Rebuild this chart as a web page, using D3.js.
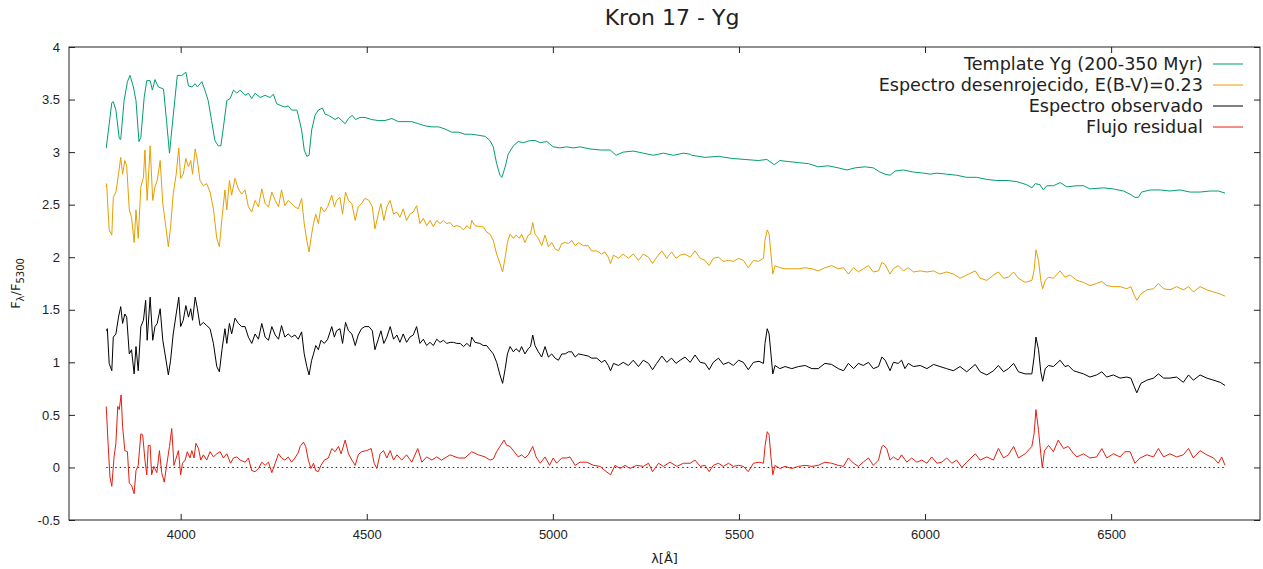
<!DOCTYPE html>
<html>
<head>
<meta charset="utf-8">
<script src="https://cdn.jsdelivr.net/npm/d3@7"></script>
<style>
  body { margin: 0; background: #fff; }
  svg { font-family: "DejaVu Sans", sans-serif; }
  .tick text { fill: #222; font-size: 13px; }
  .tick line { stroke: #222; }
</style>
</head>
<body>
<div id="chart"></div>
<script>
// [lambda (A), F/F5300]
var templateYg = [[3800,3.04],[3806,3.21],[3815,3.47],[3819,3.48],[3826,3.40],[3835,3.13],[3839,3.12],[3848,3.49],[3857,3.67],[3864,3.73],[3873,3.62],[3880,3.49],[3888,3.10],[3893,3.14],[3902,3.52],[3909,3.68],[3918,3.68],[3924,3.59],[3931,3.69],[3940,3.62],[3954,3.60],[3962,3.30],[3970,2.99],[3977,3.24],[3985,3.52],[3991,3.73],[4003,3.73],[4014,3.76],[4021,3.63],[4030,3.62],[4039,3.65],[4045,3.62],[4057,3.67],[4065,3.59],[4074,3.49],[4083,3.30],[4092,3.11],[4101,3.06],[4108,3.06],[4115,3.24],[4124,3.49],[4133,3.51],[4142,3.59],[4151,3.56],[4160,3.59],[4173,3.54],[4182,3.56],[4191,3.51],[4200,3.56],[4213,3.52],[4227,3.54],[4240,3.52],[4249,3.55],[4258,3.46],[4271,3.44],[4280,3.43],[4289,3.44],[4298,3.40],[4312,3.40],[4316,3.35],[4325,3.21],[4332,3.02],[4339,2.96],[4345,2.97],[4352,3.21],[4361,3.35],[4370,3.40],[4381,3.42],[4388,3.36],[4397,3.35],[4406,3.33],[4415,3.31],[4424,3.33],[4433,3.30],[4442,3.27],[4451,3.32],[4461,3.35],[4470,3.31],[4482,3.33],[4495,3.33],[4513,3.31],[4531,3.30],[4549,3.30],[4567,3.32],[4585,3.29],[4603,3.29],[4621,3.29],[4639,3.27],[4657,3.25],[4675,3.24],[4693,3.24],[4710,3.22],[4728,3.19],[4746,3.19],[4764,3.17],[4782,3.17],[4800,3.16],[4818,3.15],[4831,3.11],[4840,3.05],[4849,2.89],[4858,2.78],[4863,2.76],[4872,2.86],[4880,2.98],[4894,3.06],[4907,3.10],[4921,3.09],[4939,3.11],[4952,3.11],[4966,3.09],[4984,3.10],[5001,3.05],[5019,3.04],[5037,3.05],[5055,3.04],[5073,3.05],[5100,3.03],[5127,3.02],[5154,3.02],[5170,2.97],[5189,3.00],[5216,3.01],[5243,2.99],[5270,2.97],[5297,2.99],[5324,2.97],[5351,2.99],[5369,2.98],[5373,2.97],[5409,2.95],[5445,2.96],[5481,2.94],[5516,2.93],[5552,2.92],[5575,2.93],[5595,2.88],[5610,2.92],[5633,2.91],[5660,2.90],[5687,2.89],[5713,2.86],[5740,2.87],[5767,2.85],[5790,2.83],[5812,2.85],[5839,2.86],[5861,2.85],[5879,2.81],[5893,2.79],[5906,2.78],[5920,2.82],[5942,2.83],[5969,2.81],[5996,2.80],[6014,2.79],[6032,2.80],[6058,2.79],[6085,2.78],[6112,2.76],[6139,2.76],[6166,2.74],[6193,2.73],[6220,2.73],[6246,2.72],[6273,2.69],[6287,2.66],[6296,2.70],[6309,2.69],[6318,2.64],[6327,2.68],[6345,2.68],[6363,2.71],[6381,2.67],[6408,2.68],[6426,2.68],[6443,2.65],[6479,2.66],[6506,2.65],[6533,2.63],[6551,2.60],[6564,2.57],[6573,2.57],[6582,2.62],[6605,2.64],[6632,2.64],[6658,2.63],[6685,2.64],[6712,2.62],[6739,2.62],[6766,2.63],[6788,2.63],[6806,2.61]];

var dereddened = [[3800,2.67],[3801,2.70],[3808,2.26],[3815,2.21],[3819,2.57],[3826,2.62],[3833,2.79],[3839,2.95],[3844,2.79],[3850,2.92],[3855,2.87],[3862,2.45],[3868,2.38],[3875,2.14],[3880,2.45],[3886,2.18],[3893,2.67],[3900,2.76],[3904,3.02],[3910,2.54],[3918,3.06],[3925,2.54],[3931,2.67],[3937,2.73],[3945,2.92],[3952,2.51],[3958,2.35],[3967,2.10],[3973,2.29],[3980,2.60],[3988,2.79],[3995,3.04],[4000,2.75],[4007,2.79],[4014,2.94],[4021,2.86],[4027,2.92],[4032,2.79],[4039,3.03],[4045,2.92],[4052,2.73],[4061,2.68],[4070,2.70],[4079,2.62],[4088,2.46],[4097,2.18],[4104,2.10],[4111,2.37],[4119,2.64],[4124,2.45],[4131,2.73],[4137,2.59],[4146,2.75],[4155,2.65],[4164,2.60],[4173,2.64],[4182,2.48],[4191,2.43],[4200,2.54],[4209,2.48],[4218,2.65],[4227,2.51],[4236,2.48],[4245,2.62],[4254,2.54],[4263,2.48],[4271,2.64],[4280,2.49],[4289,2.54],[4298,2.51],[4307,2.48],[4316,2.46],[4325,2.56],[4332,2.32],[4339,2.16],[4345,2.05],[4352,2.22],[4357,2.32],[4363,2.41],[4370,2.32],[4377,2.48],[4386,2.43],[4395,2.48],[4406,2.59],[4413,2.48],[4419,2.54],[4428,2.57],[4435,2.41],[4443,2.62],[4451,2.54],[4460,2.51],[4469,2.35],[4477,2.48],[4486,2.51],[4495,2.56],[4506,2.54],[4515,2.48],[4522,2.27],[4531,2.41],[4538,2.51],[4546,2.35],[4554,2.48],[4563,2.54],[4572,2.41],[4581,2.43],[4589,2.38],[4598,2.46],[4607,2.35],[4616,2.41],[4625,2.43],[4634,2.49],[4643,2.32],[4652,2.37],[4661,2.30],[4670,2.35],[4679,2.29],[4688,2.35],[4697,2.32],[4706,2.35],[4715,2.32],[4724,2.33],[4733,2.29],[4742,2.30],[4751,2.29],[4760,2.26],[4769,2.30],[4778,2.27],[4782,2.35],[4791,2.30],[4804,2.29],[4813,2.29],[4822,2.24],[4831,2.22],[4840,2.16],[4849,2.03],[4858,1.94],[4865,1.86],[4872,2.00],[4878,2.14],[4885,2.22],[4894,2.18],[4901,2.21],[4910,2.18],[4916,2.22],[4925,2.14],[4934,2.21],[4940,2.22],[4946,2.33],[4952,2.22],[4961,2.18],[4970,2.11],[4979,2.21],[4988,2.10],[4997,2.14],[5006,2.08],[5015,2.06],[5024,2.13],[5033,2.14],[5042,2.13],[5051,2.16],[5060,2.11],[5069,2.14],[5082,2.11],[5095,2.11],[5104,2.06],[5118,2.06],[5131,2.03],[5140,2.05],[5149,2.00],[5155,1.94],[5163,2.02],[5176,1.99],[5189,2.03],[5203,1.99],[5216,2.03],[5230,1.97],[5243,2.03],[5257,2.00],[5268,1.94],[5279,2.00],[5293,2.06],[5306,1.99],[5319,2.05],[5331,1.99],[5342,2.02],[5355,2.03],[5369,2.00],[5382,2.06],[5396,1.99],[5409,1.97],[5420,1.92],[5431,1.99],[5445,2.00],[5458,1.96],[5472,1.97],[5485,1.96],[5499,1.99],[5512,1.97],[5525,1.90],[5539,1.97],[5552,1.96],[5566,1.99],[5570,2.16],[5576,2.26],[5581,2.22],[5586,2.03],[5591,1.84],[5597,1.92],[5610,1.90],[5624,1.89],[5642,1.89],[5660,1.89],[5678,1.90],[5696,1.89],[5713,1.87],[5731,1.90],[5749,1.92],[5767,1.89],[5781,1.90],[5794,1.84],[5808,1.90],[5821,1.86],[5834,1.89],[5848,1.92],[5861,1.86],[5875,1.87],[5884,1.95],[5893,1.93],[5906,1.84],[5915,1.89],[5928,1.92],[5942,1.87],[5955,1.90],[5969,1.86],[5987,1.87],[6005,1.86],[6023,1.87],[6040,1.84],[6058,1.86],[6076,1.84],[6094,1.80],[6112,1.83],[6135,1.87],[6148,1.80],[6166,1.78],[6184,1.83],[6197,1.86],[6211,1.80],[6224,1.81],[6238,1.86],[6251,1.80],[6269,1.76],[6287,1.78],[6293,1.87],[6298,2.07],[6305,1.97],[6311,1.78],[6316,1.70],[6323,1.78],[6332,1.81],[6345,1.80],[6363,1.87],[6376,1.81],[6390,1.83],[6408,1.78],[6426,1.76],[6443,1.73],[6461,1.75],[6475,1.77],[6488,1.73],[6506,1.72],[6524,1.72],[6542,1.70],[6553,1.72],[6562,1.64],[6569,1.59],[6580,1.65],[6596,1.69],[6614,1.70],[6627,1.75],[6641,1.70],[6658,1.69],[6676,1.72],[6694,1.69],[6708,1.72],[6721,1.67],[6739,1.72],[6757,1.69],[6775,1.67],[6793,1.65],[6806,1.63]];

var observed = [[3800,1.30],[3803,1.32],[3808,0.99],[3815,0.92],[3819,1.24],[3826,1.27],[3833,1.43],[3839,1.53],[3844,1.37],[3850,1.46],[3855,1.43],[3862,1.08],[3868,1.12],[3875,0.89],[3880,1.15],[3886,0.92],[3893,1.34],[3900,1.40],[3906,1.59],[3910,1.21],[3918,1.62],[3925,1.21],[3931,1.34],[3937,1.37],[3945,1.51],[3952,1.21],[3958,1.08],[3967,0.88],[3973,1.02],[3980,1.27],[3988,1.46],[3995,1.62],[4000,1.34],[4007,1.40],[4014,1.54],[4021,1.43],[4027,1.51],[4032,1.40],[4039,1.62],[4045,1.51],[4052,1.35],[4061,1.38],[4070,1.35],[4079,1.32],[4088,1.18],[4097,0.96],[4104,0.91],[4111,1.12],[4119,1.32],[4124,1.18],[4131,1.37],[4137,1.27],[4146,1.42],[4155,1.37],[4164,1.34],[4173,1.34],[4182,1.24],[4191,1.18],[4200,1.27],[4209,1.22],[4218,1.37],[4227,1.24],[4236,1.21],[4245,1.34],[4254,1.26],[4263,1.22],[4271,1.35],[4280,1.24],[4289,1.27],[4298,1.24],[4307,1.26],[4316,1.22],[4325,1.29],[4332,1.08],[4339,0.96],[4345,0.88],[4352,1.02],[4357,1.08],[4363,1.16],[4370,1.12],[4377,1.21],[4386,1.18],[4395,1.22],[4406,1.34],[4413,1.24],[4419,1.30],[4428,1.32],[4435,1.18],[4443,1.38],[4451,1.30],[4460,1.27],[4469,1.16],[4477,1.26],[4486,1.32],[4495,1.34],[4506,1.34],[4515,1.30],[4522,1.12],[4531,1.22],[4538,1.30],[4546,1.18],[4554,1.24],[4563,1.34],[4572,1.22],[4581,1.26],[4589,1.19],[4598,1.27],[4607,1.19],[4616,1.24],[4625,1.26],[4634,1.34],[4643,1.18],[4652,1.22],[4661,1.16],[4670,1.19],[4679,1.16],[4688,1.22],[4697,1.19],[4706,1.21],[4715,1.18],[4724,1.19],[4733,1.19],[4742,1.18],[4751,1.18],[4760,1.15],[4769,1.18],[4778,1.15],[4782,1.24],[4791,1.19],[4804,1.18],[4813,1.16],[4822,1.16],[4831,1.12],[4840,1.08],[4849,1.00],[4858,0.88],[4865,0.80],[4872,0.94],[4878,1.08],[4885,1.15],[4894,1.10],[4901,1.13],[4910,1.10],[4916,1.15],[4925,1.08],[4934,1.13],[4940,1.15],[4946,1.26],[4952,1.16],[4961,1.10],[4970,1.05],[4979,1.15],[4988,1.05],[4997,1.08],[5006,1.04],[5015,1.02],[5024,1.08],[5033,1.08],[5042,1.10],[5051,1.10],[5060,1.05],[5069,1.08],[5082,1.07],[5095,1.06],[5104,1.04],[5118,1.04],[5131,1.00],[5140,1.02],[5149,0.97],[5155,0.92],[5163,0.99],[5176,0.97],[5189,1.00],[5203,0.97],[5216,1.02],[5230,0.96],[5243,1.02],[5257,0.99],[5268,0.93],[5279,0.99],[5293,1.06],[5306,1.00],[5319,1.04],[5331,0.99],[5342,1.02],[5355,1.05],[5369,1.00],[5382,1.07],[5396,1.00],[5409,0.99],[5420,0.93],[5431,1.00],[5445,1.04],[5458,0.98],[5472,1.00],[5485,0.97],[5499,1.02],[5512,1.00],[5525,0.93],[5539,1.00],[5554,1.01],[5566,0.99],[5570,1.18],[5576,1.32],[5581,1.27],[5586,1.08],[5591,0.89],[5597,0.97],[5610,0.94],[5624,0.96],[5642,0.94],[5660,0.96],[5678,0.97],[5696,0.94],[5713,0.94],[5731,0.99],[5749,0.98],[5767,0.94],[5781,0.92],[5794,0.99],[5808,0.94],[5821,0.99],[5834,0.97],[5848,1.00],[5861,0.94],[5875,0.96],[5884,1.05],[5893,1.02],[5906,0.92],[5915,1.00],[5928,0.99],[5937,1.02],[5946,0.94],[5955,0.99],[5969,0.96],[5987,0.97],[6005,0.94],[6023,0.98],[6040,0.96],[6058,0.94],[6076,0.92],[6094,0.96],[6112,0.91],[6135,0.98],[6148,0.91],[6166,0.88],[6184,0.92],[6197,0.97],[6211,0.91],[6224,0.94],[6238,0.99],[6251,0.91],[6269,0.89],[6287,0.89],[6293,1.05],[6298,1.24],[6305,1.12],[6311,0.91],[6316,0.82],[6323,0.94],[6332,0.97],[6345,0.96],[6363,1.02],[6376,0.96],[6385,0.97],[6399,0.92],[6408,0.91],[6426,0.89],[6443,0.86],[6461,0.88],[6475,0.91],[6488,0.86],[6506,0.88],[6524,0.85],[6542,0.86],[6553,0.85],[6562,0.77],[6569,0.71],[6580,0.80],[6596,0.83],[6614,0.85],[6627,0.89],[6641,0.85],[6658,0.85],[6676,0.86],[6694,0.81],[6708,0.88],[6721,0.83],[6739,0.88],[6757,0.85],[6775,0.83],[6793,0.81],[6806,0.78]];

var residual = [[3800,0.58],[3805,0.23],[3810,-0.09],[3815,-0.18],[3821,0.10],[3826,0.23],[3831,0.58],[3835,0.55],[3840,0.69],[3844,0.39],[3850,0.16],[3857,0.15],[3862,-0.15],[3868,-0.17],[3875,-0.25],[3880,-0.03],[3886,0.02],[3893,0.32],[3898,0.31],[3904,0.07],[3909,-0.07],[3913,0.21],[3918,0.21],[3922,-0.07],[3928,0.01],[3936,-0.05],[3943,0.16],[3949,-0.05],[3956,-0.14],[3962,0.01],[3970,0.20],[3976,0.37],[3982,0.02],[3988,0.09],[3994,0.16],[4000,-0.07],[4005,0.04],[4012,0.07],[4018,0.15],[4025,0.09],[4030,0.16],[4036,0.09],[4041,0.23],[4048,0.18],[4054,0.07],[4061,0.12],[4070,0.07],[4079,0.15],[4088,0.10],[4097,0.13],[4106,0.15],[4115,0.09],[4124,0.13],[4134,0.04],[4142,0.09],[4151,0.10],[4160,0.07],[4173,0.05],[4182,0.09],[4191,-0.03],[4200,-0.04],[4209,-0.01],[4218,0.05],[4227,0.02],[4236,0.05],[4245,-0.05],[4254,0.04],[4263,0.13],[4271,0.09],[4280,0.07],[4289,0.10],[4298,0.05],[4307,0.09],[4316,0.14],[4321,0.20],[4330,0.24],[4336,0.20],[4343,0.07],[4350,-0.01],[4357,0.04],[4363,-0.03],[4370,-0.04],[4377,0.02],[4386,0.07],[4397,0.09],[4406,0.18],[4415,0.15],[4424,0.20],[4431,0.13],[4442,0.26],[4451,0.13],[4460,0.07],[4469,0.02],[4477,0.12],[4486,0.15],[4500,0.16],[4512,0.18],[4520,0.04],[4527,-0.01],[4536,0.13],[4545,0.16],[4554,0.09],[4563,0.16],[4572,0.07],[4581,0.12],[4594,0.07],[4607,0.12],[4621,0.05],[4637,0.18],[4648,0.05],[4661,0.10],[4675,0.07],[4688,0.10],[4701,0.07],[4724,0.12],[4746,0.09],[4764,0.09],[4782,0.15],[4800,0.12],[4818,0.10],[4831,0.07],[4840,0.08],[4849,0.15],[4858,0.20],[4869,0.26],[4876,0.21],[4885,0.20],[4896,0.15],[4907,0.10],[4916,0.12],[4925,0.09],[4934,0.12],[4946,0.20],[4955,0.10],[4966,0.04],[4979,0.10],[4991,0.02],[5001,0.09],[5010,0.04],[5024,0.09],[5037,0.09],[5046,0.10],[5060,0.02],[5073,0.05],[5091,0.05],[5109,0.02],[5127,0.01],[5140,-0.03],[5155,-0.07],[5167,0.02],[5181,-0.01],[5194,0.02],[5207,-0.01],[5225,0.02],[5243,0.01],[5257,0.04],[5268,-0.04],[5284,0.04],[5297,0.01],[5315,0.05],[5333,0.01],[5351,0.04],[5369,0.04],[5382,0.07],[5396,0.01],[5409,0.02],[5420,-0.04],[5431,0.02],[5445,0.04],[5458,0.01],[5472,0.04],[5485,0.01],[5499,0.02],[5512,0.01],[5525,-0.04],[5539,0.04],[5554,0.05],[5566,0.04],[5570,0.20],[5576,0.34],[5581,0.31],[5586,0.10],[5591,-0.07],[5597,0.02],[5610,-0.01],[5624,0.01],[5642,-0.01],[5660,0.01],[5678,0.02],[5696,0.01],[5713,0.02],[5731,0.05],[5749,0.04],[5767,0.02],[5781,0.01],[5794,0.09],[5808,0.04],[5821,0.01],[5834,0.05],[5848,0.09],[5861,0.02],[5875,0.07],[5884,0.20],[5888,0.21],[5897,0.18],[5906,0.07],[5915,0.10],[5928,0.07],[5937,0.12],[5951,0.05],[5964,0.09],[5978,0.05],[5991,0.07],[6005,0.04],[6018,0.10],[6032,0.04],[6045,0.05],[6058,0.09],[6072,0.04],[6085,0.07],[6099,0.00],[6112,0.05],[6135,0.13],[6148,0.07],[6166,0.10],[6184,0.07],[6197,0.18],[6211,0.09],[6224,0.12],[6238,0.20],[6251,0.09],[6269,0.13],[6287,0.20],[6293,0.32],[6298,0.55],[6305,0.35],[6311,0.13],[6315,0.00],[6321,0.16],[6332,0.21],[6345,0.15],[6358,0.26],[6372,0.18],[6385,0.20],[6399,0.13],[6408,0.10],[6426,0.13],[6443,0.09],[6461,0.10],[6475,0.18],[6488,0.09],[6506,0.13],[6524,0.10],[6537,0.15],[6551,0.15],[6564,0.04],[6578,0.09],[6596,0.12],[6614,0.10],[6627,0.18],[6641,0.10],[6658,0.13],[6676,0.10],[6694,0.12],[6708,0.18],[6721,0.09],[6739,0.16],[6757,0.12],[6775,0.09],[6788,0.04],[6797,0.10],[6806,0.02]];

var seriesNames = ['Template Yg (200-350 Myr)', 'Espectro desenrojecido, E(B-V)=0.23', 'Espectro observado', 'Flujo residual'];
var seriesColors = ['#009e73', '#e69f00', '#000000', '#e51e10'];
var xTicks = [4000, 4500, 5000, 5500, 6000, 6500];
var yTicks = [-0.5, 0, 0.5, 1, 1.5, 2, 2.5, 3, 3.5, 4];

//Basic setting
var w = 1263, h = 569;
var margin = {top: 47, right: 3, bottom: 49, left: 69};
var innerW = w - margin.left - margin.right,
    innerH = h - margin.top - margin.bottom;

var svg = d3.select('#chart').append('svg')
    .attr('width', w)
    .attr('height', h);

var g = svg.append('g')
    .attr('transform', 'translate(' + [margin.left, margin.top] + ')');

//Scales
var x = d3.scaleLinear().domain([3700, 6900]).range([0, innerW]);
var y = d3.scaleLinear().domain([-0.5, 4]).range([innerH, 0]);

//Axes, gnuplot style: inward ticks, mirrored
var fmt = function(d) { return String(d); };
g.append('g')
    .attr('class', 'x axis')
    .attr('transform', 'translate(0,' + innerH + ')')
    .call(d3.axisBottom(x).tickValues(xTicks).tickFormat(fmt).tickSizeInner(-6).tickSizeOuter(0).tickPadding(10));
g.append('g')
    .attr('class', 'x2 axis')
    .call(d3.axisTop(x).tickValues(xTicks).tickFormat('').tickSizeInner(-6).tickSizeOuter(0));
g.append('g')
    .attr('class', 'y axis')
    .call(d3.axisLeft(y).tickValues(yTicks).tickFormat(fmt).tickSizeInner(-6).tickSizeOuter(0).tickPadding(9));
g.append('g')
    .attr('class', 'y2 axis')
    .attr('transform', 'translate(' + innerW + ',0)')
    .call(d3.axisRight(y).tickValues(yTicks).tickFormat('').tickSizeInner(-6).tickSizeOuter(0));
g.selectAll('.domain').remove();

g.append('rect')
    .attr('width', innerW)
    .attr('height', innerH)
    .attr('fill', 'none')
    .attr('stroke', '#222')
    .attr('stroke-width', 1);

//Zero reference line over the residual range
var line = d3.line()
    .x(function(d) { return x(d[0]); })
    .y(function(d) { return y(d[1]); });

var zeroLine = [[residual[0][0], 0], [residual[residual.length - 1][0], 0]];
g.append('path')
    .datum(zeroLine)
    .attr('d', line)
    .attr('fill', 'none')
    .attr('stroke', '#222')
    .attr('stroke-width', 1)
    .attr('stroke-dasharray', '1.5,3');

//Spectra
var allSeries = [templateYg, dereddened, observed, residual];
allSeries.forEach(function(s, i) {
    g.append('path')
        .datum(s)
        .attr('class', 'line')
        .attr('d', line)
        .attr('fill', 'none')
        .attr('stroke', seriesColors[i])
        .attr('stroke-width', 1)
        .attr('stroke-linejoin', 'round');
});

//Legend
var legend = svg.append('g').attr('class', 'legend');
seriesNames.forEach(function(name, i) {
    var ly = 64 + i * 21;
    legend.append('text')
        .attr('x', 1203)
        .attr('y', ly)
        .attr('dy', '0.35em')
        .attr('text-anchor', 'end')
        .attr('font-size', 17.6)
        .attr('fill', '#222')
        .text(name);
    legend.append('line')
        .attr('x1', 1213).attr('x2', 1243)
        .attr('y1', ly).attr('y2', ly)
        .attr('stroke', seriesColors[i])
        .attr('stroke-width', 1);
});

//Title and axis labels
svg.append('text')
    .attr('x', 672)
    .attr('y', 25)
    .attr('text-anchor', 'middle')
    .attr('font-size', 22)
    .attr('fill', '#222')
    .text('Kron 17 - Yg');

svg.append('text')
    .attr('x', margin.left + innerW / 2)
    .attr('y', 563)
    .attr('text-anchor', 'middle')
    .attr('font-size', 13)
    .attr('fill', '#222')
    .text('λ[Å]');

var yl = svg.append('text')
    .attr('transform', 'translate(20,' + (margin.top + innerH / 2) + ') rotate(-90)')
    .attr('text-anchor', 'middle')
    .attr('font-size', 13)
    .attr('fill', '#222');
yl.append('tspan').text('F');
yl.append('tspan').attr('dy', 4).attr('font-size', 10).text('λ');
yl.append('tspan').attr('dy', -4).text('/F');
yl.append('tspan').attr('dy', 4).attr('font-size', 10).text('5300');
</script>
</body>
</html>
